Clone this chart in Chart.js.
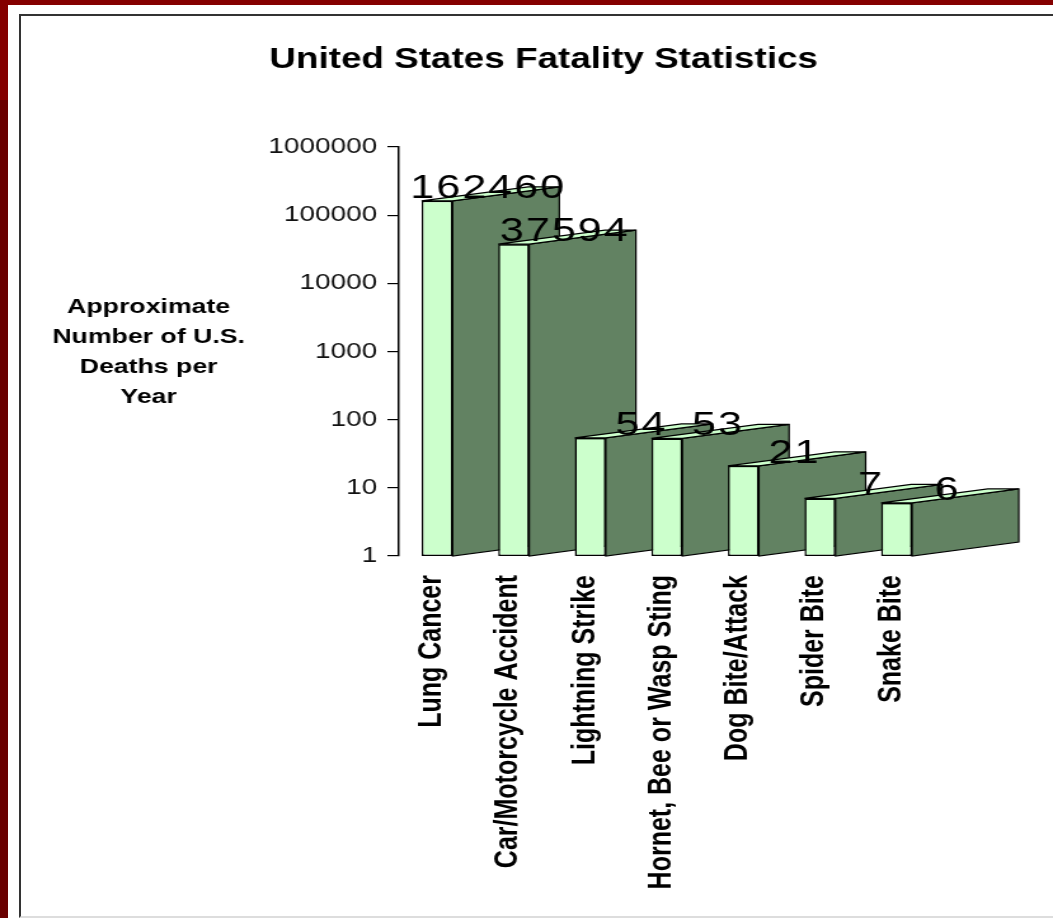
<!DOCTYPE html>
<html>
<head>
<meta charset="utf-8">
<title>United States Fatality Statistics</title>
<script src="https://cdn.jsdelivr.net/npm/chart.js@4.4.1/dist/chart.umd.min.js"></script>
<style>
    html, body { margin: 0; padding: 0; }
    body {
        width: 1053px; height: 918px; overflow: hidden; position: relative;
        background: linear-gradient(#850000 0, #850000 100px, #6a0000 100px);
    }
    #panel { position: absolute; left: 8px; top: 5px; right: 0; bottom: 0; background: #fff; }
    #frame {
        position: absolute; left: 19px; top: 14px; right: -10px; bottom: 0;
        border: 2px solid #333; border-bottom-color: #ddd;
    }
    #myChart { position: absolute; left: 0; top: 0; }
</style>
</head>
<body>
<div id="panel"></div>
<div id="frame"></div>
<!-- the source picture is a bitmap stretched sideways, so the canvas is too -->
<canvas id="myChart" width="829" height="918" style="width:1053px;height:918px"></canvas>
<script>
const CATEGORIES = [
    'Lung Cancer', 'Car/Motorcycle Accident', 'Lightning Strike',
    'Hornet, Bee or Wasp Sting', 'Dog Bite/Attack', 'Spider Bite', 'Snake Bite'
];
const DEATHS  = [162460, 37594, 54, 53, 21, 7, 6];
const Y_TICKS = [1, 10, 100, 1000, 10000, 100000, 1000000];
const TITLE   = 'United States Fatality Statistics';
const Y_TITLE = ['Approximate', 'Number of U.S.', 'Deaths per', 'Year'];

const FRONT = '#ccffcc';
const SIDE  = '#628262';
const DEPTH_X = 84, DEPTH_Y = 14;
const FONT = '"Liberation Sans", Arial, sans-serif';

// fake 3D: a side face and a thin top face behind every bar
const depthPlugin = {
    id: 'depth',
    beforeDatasetsDraw(chart) {
        const ctx = chart.ctx;
        ctx.save();
        ctx.lineWidth = 1.2;
        ctx.strokeStyle = '#000';
        chart.getDatasetMeta(0).data.forEach(bar => {
            const { x, y, base, width } = bar.getProps(['x', 'y', 'base', 'width'], true);
            const l = x - width / 2, r = x + width / 2;

            ctx.beginPath();
            ctx.moveTo(r, y);
            ctx.lineTo(r + DEPTH_X, y - DEPTH_Y);
            ctx.lineTo(r + DEPTH_X, base - DEPTH_Y);
            ctx.lineTo(r, base);
            ctx.closePath();
            ctx.fillStyle = SIDE;
            ctx.fill();
            ctx.stroke();

            ctx.beginPath();
            ctx.moveTo(l, y);
            ctx.lineTo(r, y);
            ctx.lineTo(r + DEPTH_X, y - DEPTH_Y);
            ctx.lineTo(l + DEPTH_X, y - DEPTH_Y);
            ctx.closePath();
            ctx.fillStyle = FRONT;
            ctx.fill();
            ctx.stroke();
        });
        ctx.restore();
    },
    afterDatasetsDraw(chart) {
        const ctx = chart.ctx;
        ctx.save();
        ctx.font = '34px ' + FONT;
        if ('letterSpacing' in ctx) ctx.letterSpacing = '1.5px';
        ctx.fillStyle = '#000';
        ctx.textAlign = 'center';
        ctx.textBaseline = 'alphabetic';
        chart.getDatasetMeta(0).data.forEach((bar, i) => {
            const { x, y, width } = bar.getProps(['x', 'y', 'width'], true);
            ctx.fillText(String(DEATHS[i]), x + width / 2 + 28, y - 3);
        });
        ctx.restore();
    }
};

// title and the horizontal y-axis caption
const textPlugin = {
    id: 'texts',
    afterDraw(chart) {
        const ctx = chart.ctx;
        const area = chart.chartArea;
        ctx.save();
        ctx.fillStyle = '#000';
        ctx.textAlign = 'center';
        ctx.textBaseline = 'alphabetic';
        ctx.font = 'bold 29px ' + FONT;
        ctx.fillText(TITLE, area.left + 114, 68);
        ctx.font = 'bold 21px ' + FONT;
        Y_TITLE.forEach((line, i) => {
            ctx.fillText(line, area.left - 197, 313 + i * 30);
        });
        ctx.restore();
    }
};

new Chart(document.getElementById('myChart'), {
    type: 'bar',
    data: {
        labels: CATEGORIES,
        datasets: [{
            data: DEATHS,
            backgroundColor: FRONT,
            borderColor: '#000',
            borderWidth: 1.5,
            borderSkipped: false,
            categoryPercentage: 1,
            barPercentage: 0.405
        }]
    },
    options: {
        responsive: false,
        devicePixelRatio: 1,
        animation: false,
        events: [],
        layout: { padding: { left: 0, right: 93, top: 147, bottom: 0 } },
        plugins: {
            legend: { display: false },
            tooltip: { enabled: false },
            title: { display: false }
        },
        scales: {
            x: {
                grid: { display: false, drawTicks: false },
                border: { display: false },
                afterFit: s => { s.height = 362; },
                ticks: {
                    autoSkip: false,
                    minRotation: 90,
                    maxRotation: 90,
                    padding: 19,
                    labelOffset: -4,
                    color: '#000',
                    font: { family: FONT, weight: 'bold', size: 25 }
                }
            },
            y: {
                type: 'logarithmic',
                min: 1,
                max: 1000000,
                afterFit: s => { s.width = 314; },
                afterBuildTicks: s => { s.ticks = Y_TICKS.map(v => ({ value: v })); },
                grid: {
                    display: true, drawOnChartArea: false, drawTicks: true,
                    tickLength: 9, color: '#000', lineWidth: 1.2
                },
                border: { display: true, color: '#000', width: 1.5 },
                ticks: {
                    padding: 8,
                    color: '#111',
                    font: { family: FONT, size: 22 },
                    callback: v => String(v)
                }
            }
        }
    },
    plugins: [depthPlugin, textPlugin]
});
</script>
</body>
</html>
